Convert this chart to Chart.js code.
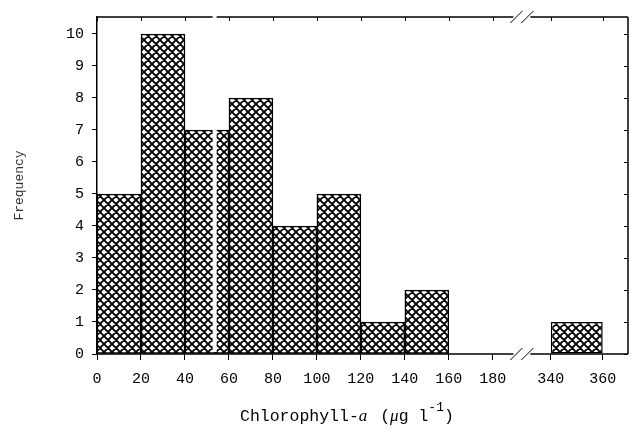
<!DOCTYPE html>
<html>
<head>
<meta charset="utf-8">
<script src="https://cdn.jsdelivr.net/npm/chart.js@4.4.1/dist/chart.umd.min.js"></script>
<style>
  html, body { margin: 0; padding: 0; background: #fff; }
</style>
</head>
<body>
<canvas id="chart" width="632" height="429"></canvas>
<script>
// Histogram data (bin start, count), bins are 20 wide
const binStarts = [0, 20, 40, 60, 80, 100, 120, 140, 340];
const counts = [5, 10, 7, 8, 4, 5, 1, 2, 1];
const binWidth = 20;
const xTickValues = [0, 20, 40, 60, 80, 100, 120, 140, 160, 180, 340, 360];
const yTickValues = [0, 1, 2, 3, 4, 5, 6, 7, 8, 9, 10];

// Broken x axis: values past the break are shifted left and drawn a bit wider
const BREAK_FROM = 200;
const BREAK_TO = 340;
const AFTER_BREAK = 206.4;
const STRETCH = 1.18;
const BREAK_MARK = 193;
const toAxis = v => v <= BREAK_FROM ? v : AFTER_BREAK + (v - BREAK_TO) * STRETCH;

const FONT = "'Liberation Mono', 'DejaVu Sans Mono', monospace";

// Cross-hatch fill
function makeHatch() {
  const s = 8;
  const c = document.createElement('canvas');
  c.width = s; c.height = s;
  const g = c.getContext('2d');
  g.fillStyle = '#fff';
  g.fillRect(0, 0, s, s);
  g.strokeStyle = '#000';
  g.lineWidth = 1.9;
  g.beginPath();
  for (const o of [-s, 0, s]) {
    g.moveTo(o, 0); g.lineTo(o + s, s);
    g.moveTo(o + s, 0); g.lineTo(o, s);
  }
  g.stroke();
  return g.createPattern(c, 'repeat');
}
const hatch = makeHatch();

const nearBins = [], farBins = [];
binStarts.forEach((b, i) => {
  const pt = { x: toAxis(b + binWidth / 2), y: counts[i] };
  (b < BREAK_FROM ? nearBins : farBins).push(pt);
});

// Frame, mirrored ticks, break marks and the scan's white stripe
const framePlugin = {
  id: 'frame',
  afterDraw(chart) {
    const { ctx, chartArea: a, scales: { x, y } } = chart;
    const bx = x.getPixelForValue(BREAK_MARK);
    ctx.save();
    ctx.strokeStyle = '#000';
    ctx.lineWidth = 1.5;
    ctx.beginPath();
    // top with gap
    ctx.moveTo(a.left, a.top); ctx.lineTo(bx - 8, a.top);
    ctx.moveTo(bx + 9, a.top); ctx.lineTo(a.right, a.top);
    // right
    ctx.moveTo(a.right, a.top); ctx.lineTo(a.right, a.bottom);
    // bottom with gap
    ctx.moveTo(a.left, a.bottom); ctx.lineTo(bx - 8, a.bottom);
    ctx.moveTo(bx + 9, a.bottom); ctx.lineTo(a.right, a.bottom);
    ctx.stroke();

    ctx.lineWidth = 1;
    ctx.beginPath();
    xTickValues.forEach(v => {
      const px = Math.round(x.getPixelForValue(toAxis(v))) + 0.5;
      ctx.moveTo(px, a.top); ctx.lineTo(px, a.top + 4);
    });
    yTickValues.forEach(v => {
      const py = Math.round(y.getPixelForValue(v)) + 0.5;
      ctx.moveTo(a.right, py); ctx.lineTo(a.right - 4, py);
    });
    // break slashes
    for (const yy of [a.top, a.bottom]) {
      for (const dx of [-5, 6]) {
        ctx.moveTo(bx + dx - 6, yy + 6);
        ctx.lineTo(bx + dx + 6, yy - 6);
      }
    }
    ctx.stroke();

    // white scan stripe
    const sx = x.getPixelForValue(53.5);
    ctx.fillStyle = '#fff';
    ctx.fillRect(sx - 2, a.top - 3, 4, a.bottom - a.top + 1);

    // x axis title
    ctx.fillStyle = '#000';
    ctx.textBaseline = 'alphabetic';
    let tx = 240;
    const ty = 421;
    const parts = [
      ['Chlorophyll-', "16.5px " + FONT, 0],
      ['a', "italic 17px 'Liberation Serif', serif", 0],
      [' (', "16.5px " + FONT, 0],
      ['\u03bc', "italic 17px 'Liberation Serif', serif", 0],
      ['g l', "16.5px " + FONT, 0],
      ['-1', "13px " + FONT, -10],
      [')', "16.5px " + FONT, 0]
    ];
    parts.forEach(([t, f, dy]) => {
      ctx.font = f;
      ctx.fillText(t, tx, ty + dy);
      tx += ctx.measureText(t).width + (t === 'a' ? 3 : 0);
    });
    ctx.restore();
  }
};

new Chart(document.getElementById('chart'), {
  type: 'bar',
  data: {
    datasets: [
      {
        data: nearBins,
        backgroundColor: hatch,
        borderColor: '#000',
        borderWidth: 1.5,
        borderSkipped: false,
        grouped: false,
        barPercentage: 1,
        categoryPercentage: 1
      },
      {
        data: farBins,
        backgroundColor: hatch,
        borderColor: '#000',
        borderWidth: 1.5,
        borderSkipped: false,
        grouped: false,
        barPercentage: STRETCH,
        categoryPercentage: 1
      }
    ]
  },
  options: {
    responsive: false,
    animation: false,
    layout: { padding: { top: 11, right: 4, left: 0, bottom: 0 } },
    plugins: { legend: { display: false }, tooltip: { enabled: false } },
    scales: {
      x: {
        type: 'linear',
        min: 0,
        max: 241.5,
        offset: false,
        border: { display: false },
        grid: { offset: false, drawOnChartArea: false, tickLength: 6, color: '#000', lineWidth: 1 },
        afterBuildTicks: s => { s.ticks = xTickValues.map(v => ({ value: toAxis(v) })); },
        afterFit: s => { s.height = 75; },
        ticks: {
          autoSkip: false,
          maxRotation: 0,
          padding: 10,
          color: '#000',
          font: { family: FONT, size: 15 },
          callback: (v, i) => xTickValues[i]
        }
      },
      y: {
        min: 0,
        max: 10.53,
        border: { display: true, color: '#000', width: 1.5 },
        grid: { drawOnChartArea: false, tickLength: 5, color: '#000', lineWidth: 1 },
        afterBuildTicks: s => { s.ticks = yTickValues.map(v => ({ value: v })); },
        afterFit: s => { s.width = 97; },
        ticks: {
          padding: 8,
          color: '#000',
          font: { family: FONT, size: 15 }
        },
        title: {
          display: true,
          text: 'Frequency',
          color: '#333',
          font: { family: FONT, size: 13 },
          padding: { top: 12, bottom: 0 }
        }
      }
    }
  },
  plugins: [framePlugin]
});
</script>
</body>
</html>
